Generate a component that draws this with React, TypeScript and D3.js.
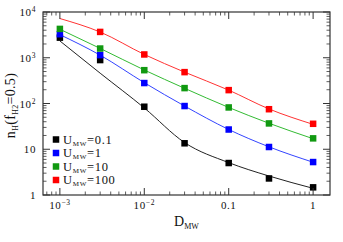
import React from "react";
import * as d3 from "d3";

// D_MW values where the models were run
const dmw = [0.001, 0.003, 0.01, 0.03, 0.1, 0.3, 1];

// markers (n_H at f_H2 = 0.5); null = no marker
const ptsU01 = [2750, 890, 85, 13.5, 5.0, 2.3, 1.47];
const ptsU1 = [3270, 1140, 280, 88, 27, 11.2, 5.25];
const ptsU10 = [4270, 1590, 535, 217, 82, 36.7, 17.3];
const ptsU100 = [null, 3670, 1180, 485, 196, 75, 36];

// fitted curves
const lineU01 = [2330, 460, 80, 14, 5.1, 2.6, 1.4];
const lineU1 = [3200, 1140, 285, 88, 27, 11.3, 5.2];
const lineU10 = [4200, 1600, 540, 215, 82, 37, 17];
const lineU100 = [7200, 3650, 1180, 485, 196, 76, 35];

const seriesNames = ["0.1", "1", "10", "100"];
const markerColors = ["#000000", "#0000ff", "#119911", "#ff0000"];
const lineColors = ["#222222", "#3344ff", "#33bb33", "#ff3333"];

const xTicks = [0.001, 0.01, 0.1, 1];
const xTickLabels = ["10", "10", "0.1", "1"];
const xTickSup = ["-3", "-2", "", ""];
const yTicks = [1, 10, 100, 1000, 10000];
const yTickLabels = ["1", "10", "10", "10", "10"];
const yTickSup = ["", "", "2", "3", "4"];

const W = 343, H = 242;
const m = { left: 43, right: 330, top: 12, bottom: 195 };

export default function App() {
  const x = d3.scaleLog().domain([Math.pow(10, -3.2), Math.pow(10, 0.2)]).range([m.left, m.right]);
  const y = d3.scaleLog().domain([1, 10000]).range([m.bottom, m.top]);

  const pts = [ptsU01, ptsU1, ptsU10, ptsU100];
  const lines = [lineU01, lineU1, lineU10, lineU100];

  const line = d3
    .line<[number, number]>()
    .x((d) => x(d[0]))
    .y((d) => y(d[1]))
    .curve(d3.curveMonotoneX);

  // minor ticks
  const xMinor: number[] = [];
  for (let e = -4; e <= 0; e++) {
    for (let k = 2; k <= 9; k++) {
      const v = k * Math.pow(10, e);
      if (v >= x.domain()[0] && v <= x.domain()[1]) xMinor.push(v);
    }
  }
  const yMinor: number[] = [];
  for (let e = 0; e <= 3; e++) {
    for (let k = 2; k <= 9; k++) yMinor.push(k * Math.pow(10, e));
  }

  const axisColor = "#333";
  const font = "'Liberation Serif', 'DejaVu Serif', serif";
  const sq = 6.5;

  return (
    <svg width={W} height={H} style={{ position: "absolute", left: 0, top: 0, background: "#fff" }} fontFamily={font}>
      {/* curves */}
      {lines.map((vals, i) => (
        <path
          key={"l" + i}
          d={line(dmw.map((d, j) => [d, vals[j]] as [number, number])) || ""}
          fill="none"
          stroke={lineColors[i]}
          strokeWidth={1}
        />
      ))}
      {/* markers */}
      {pts.map((vals, i) =>
        vals.map((v, j) =>
          v == null ? null : (
            <rect
              key={"p" + i + "-" + j}
              x={x(dmw[j]) - sq / 2}
              y={y(v) - sq / 2}
              width={sq}
              height={sq}
              fill={markerColors[i]}
            />
          )
        )
      )}
      {/* frame */}
      <rect x={m.left} y={m.top} width={m.right - m.left} height={m.bottom - m.top} fill="none" stroke={axisColor} strokeWidth={1.2} />
      {/* x ticks */}
      {xTicks.map((t) => (
        <g key={"xt" + t} stroke={axisColor} strokeWidth={1}>
          <line x1={x(t)} x2={x(t)} y1={m.bottom} y2={m.bottom - 7} />
          <line x1={x(t)} x2={x(t)} y1={m.top} y2={m.top + 7} />
        </g>
      ))}
      {xMinor.map((t) => (
        <g key={"xm" + t} stroke={axisColor} strokeWidth={0.8}>
          <line x1={x(t)} x2={x(t)} y1={m.bottom} y2={m.bottom - 3.5} />
          <line x1={x(t)} x2={x(t)} y1={m.top} y2={m.top + 3.5} />
        </g>
      ))}
      {/* y ticks */}
      {yTicks.map((t) => (
        <g key={"yt" + t} stroke={axisColor} strokeWidth={1}>
          <line x1={m.left} x2={m.left + 7} y1={y(t)} y2={y(t)} />
          <line x1={m.right} x2={m.right - 7} y1={y(t)} y2={y(t)} />
        </g>
      ))}
      {yMinor.map((t) => (
        <g key={"ym" + t} stroke={axisColor} strokeWidth={0.8}>
          <line x1={m.left} x2={m.left + 3.5} y1={y(t)} y2={y(t)} />
          <line x1={m.right} x2={m.right - 3.5} y1={y(t)} y2={y(t)} />
        </g>
      ))}
      {/* x tick labels */}
      {xTicks.map((t, i) => (
        <text key={"xl" + t} x={x(t)} y={m.bottom + 14} textAnchor="middle" fontSize={11} letterSpacing={0.6} fill="#111">
          {xTickLabels[i]}
          {xTickSup[i] && (
            <tspan fontSize={7.5} dy={-4}>
              {xTickSup[i].replace("-", "\u2212")}
            </tspan>
          )}
        </text>
      ))}
      {/* y tick labels */}
      {yTicks.map((t, i) => (
        <text key={"yl" + t} x={m.left - 7} y={y(t) + 4} textAnchor="end" fontSize={11} letterSpacing={0.6} fill="#111">
          {yTickLabels[i]}
          {yTickSup[i] && (
            <tspan fontSize={7.5} dy={-4}>
              {yTickSup[i]}
            </tspan>
          )}
        </text>
      ))}
      {/* axis titles */}
      <text x={(m.left + m.right) / 2} y={226} textAnchor="middle" fontSize={14} fill="#111">
        D<tspan fontSize={8} dy={3}>MW</tspan>
      </text>
      <text transform={`translate(15,${(m.top + m.bottom) / 2 + 2}) rotate(-90)`} textAnchor="middle" fontSize={14} letterSpacing={0.3} fill="#111">
        n<tspan fontSize={8} dy={3}>H</tspan>
        <tspan dy={-3}>(f</tspan>
        <tspan fontSize={8} dy={3}>H2</tspan>
        <tspan dy={-3}>=0.5)</tspan>
      </text>
      {/* legend */}
      {seriesNames.map((s, i) => (
        <g key={"lg" + s} transform={`translate(56,${139.5 + i * 13.5})`}>
          <rect x={-sq / 2} y={-sq / 2} width={sq} height={sq} fill={markerColors[i]} />
          <text x={7} y={4} fontSize={12.5} letterSpacing={0.7} fill="#111">
            U<tspan fontSize={7} dy={2}>MW</tspan>
            <tspan dy={-2}>={s}</tspan>
          </text>
        </g>
      ))}
    </svg>
  );
}
